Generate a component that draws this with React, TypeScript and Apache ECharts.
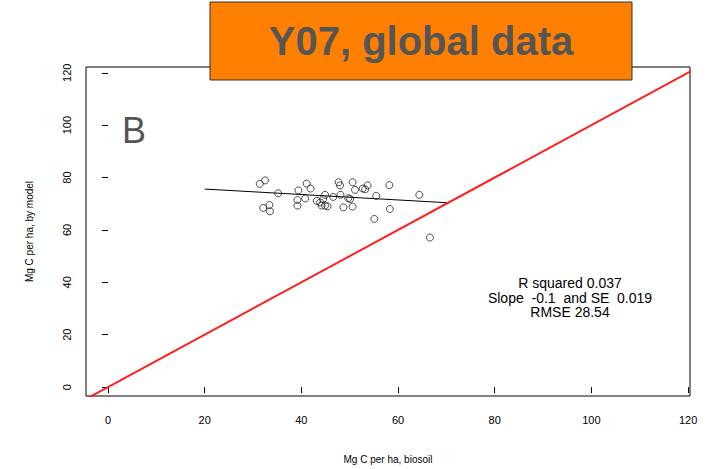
import { useEffect, useRef } from "react"
import * as echarts from "echarts"

const obsX = [31.4, 32.5, 35.2, 32.1, 33.4, 33.5, 39.4, 41.1, 41.9, 39.2, 39.2, 40.8, 43.2, 43.9, 44.2, 44.9, 44.9, 45.4, 44.5, 46.6, 47.7, 48.0, 48.1, 48.7, 49.7, 50.1, 50.6, 50.6, 51.1, 52.7, 53.2, 53.7, 55.5, 58.2, 58.3, 55.1, 64.4, 66.6]
const modY = [77.6, 78.9, 74.0, 68.4, 69.5, 67.1, 75.1, 77.7, 75.8, 71.4, 69.3, 72.0, 71.1, 70.5, 69.3, 73.4, 69.3, 69.0, 71.8, 72.6, 78.2, 77.0, 73.4, 68.6, 72.1, 71.8, 78.2, 68.9, 75.3, 75.8, 75.5, 77.0, 73.0, 77.1, 68.0, 64.2, 73.4, 57.1]
const fitLine = [[20, 75.6], [70, 70.4]]
const oneToOne = [[-10, -10], [130, 130]]
const ticks = [0, 20, 40, 60, 80, 100, 120]
const statsLines = ["R squared 0.037", "Slope  -0.1  and SE  0.019", "RMSE 28.54"]

export default function App() {
  const ref = useRef<HTMLDivElement>(null)

  useEffect(() => {
    if (!ref.current) return
    const chart = echarts.init(ref.current, undefined, { renderer: "svg" })
    const axisCommon = {
      type: "value" as const,
      offset: 6,
      splitLine: { show: false },
      axisLine: { show: false },
      axisTick: { show: true, inside: false, length: 6, customValues: ticks, lineStyle: { color: "#000" } },
      axisLabel: { customValues: ticks, color: "#000", fontSize: 11, fontFamily: "Liberation Sans", margin: 12 },
      nameLocation: "middle" as const,
      nameTextStyle: { color: "#000", fontSize: 10, fontFamily: "Liberation Sans" },
    }
    chart.setOption({
      animation: false,
      grid: { left: 86, top: 67, width: 604, height: 335, show: true, borderColor: "#000", borderWidth: 1, backgroundColor: "transparent" },
      xAxis: { ...axisCommon, position: "bottom", min: -4.55, max: 120.4, name: "Mg C per ha, biosoil", nameGap: 52 },
      yAxis: { ...axisCommon, position: "left", min: -3.4, max: 122.2, name: "Mg C per ha, by model", nameGap: 46,
        axisLabel: { ...axisCommon.axisLabel, rotate: 90, margin: 8 } },
      graphic: [
        { type: "rect", shape: { x: 210, y: 2, width: 422, height: 78 }, style: { fill: "#ff8000", stroke: "#333", lineWidth: 1 } },
        { type: "text", x: 421, y: 41, style: { text: "Y07, global data", fill: "#555", font: "bold 40px Liberation Sans", align: "center", verticalAlign: "middle" } },
        { type: "text", x: 122, y: 130, style: { text: "B", fill: "#555", font: "36px Liberation Sans", verticalAlign: "middle" } },
        ...statsLines.map((t, i) => ({ type: "text", x: 570, y: 283 + i * 14.5, style: { text: t, fill: "#000", font: "14px Liberation Sans", align: "center", verticalAlign: "middle" } })),
      ],
      series: [
        { type: "line", data: oneToOne, symbol: "none", lineStyle: { color: "#ff2020", width: 2 }, clip: true, z: 1 },
        { type: "line", data: fitLine, symbol: "none", lineStyle: { color: "#000", width: 1 }, z: 2 },
        { type: "scatter", data: obsX.map((x, i) => [x, modY[i]]), symbol: "circle", symbolSize: 7,
          itemStyle: { color: "transparent", borderColor: "#222", borderWidth: 1 }, z: 3 },
      ],
    })
    return () => chart.dispose()
  }, [])

  return <div ref={ref} style={{ width: 706, height: 469, position: "absolute", left: 0, top: 0, background: "#fff" }} />
}
